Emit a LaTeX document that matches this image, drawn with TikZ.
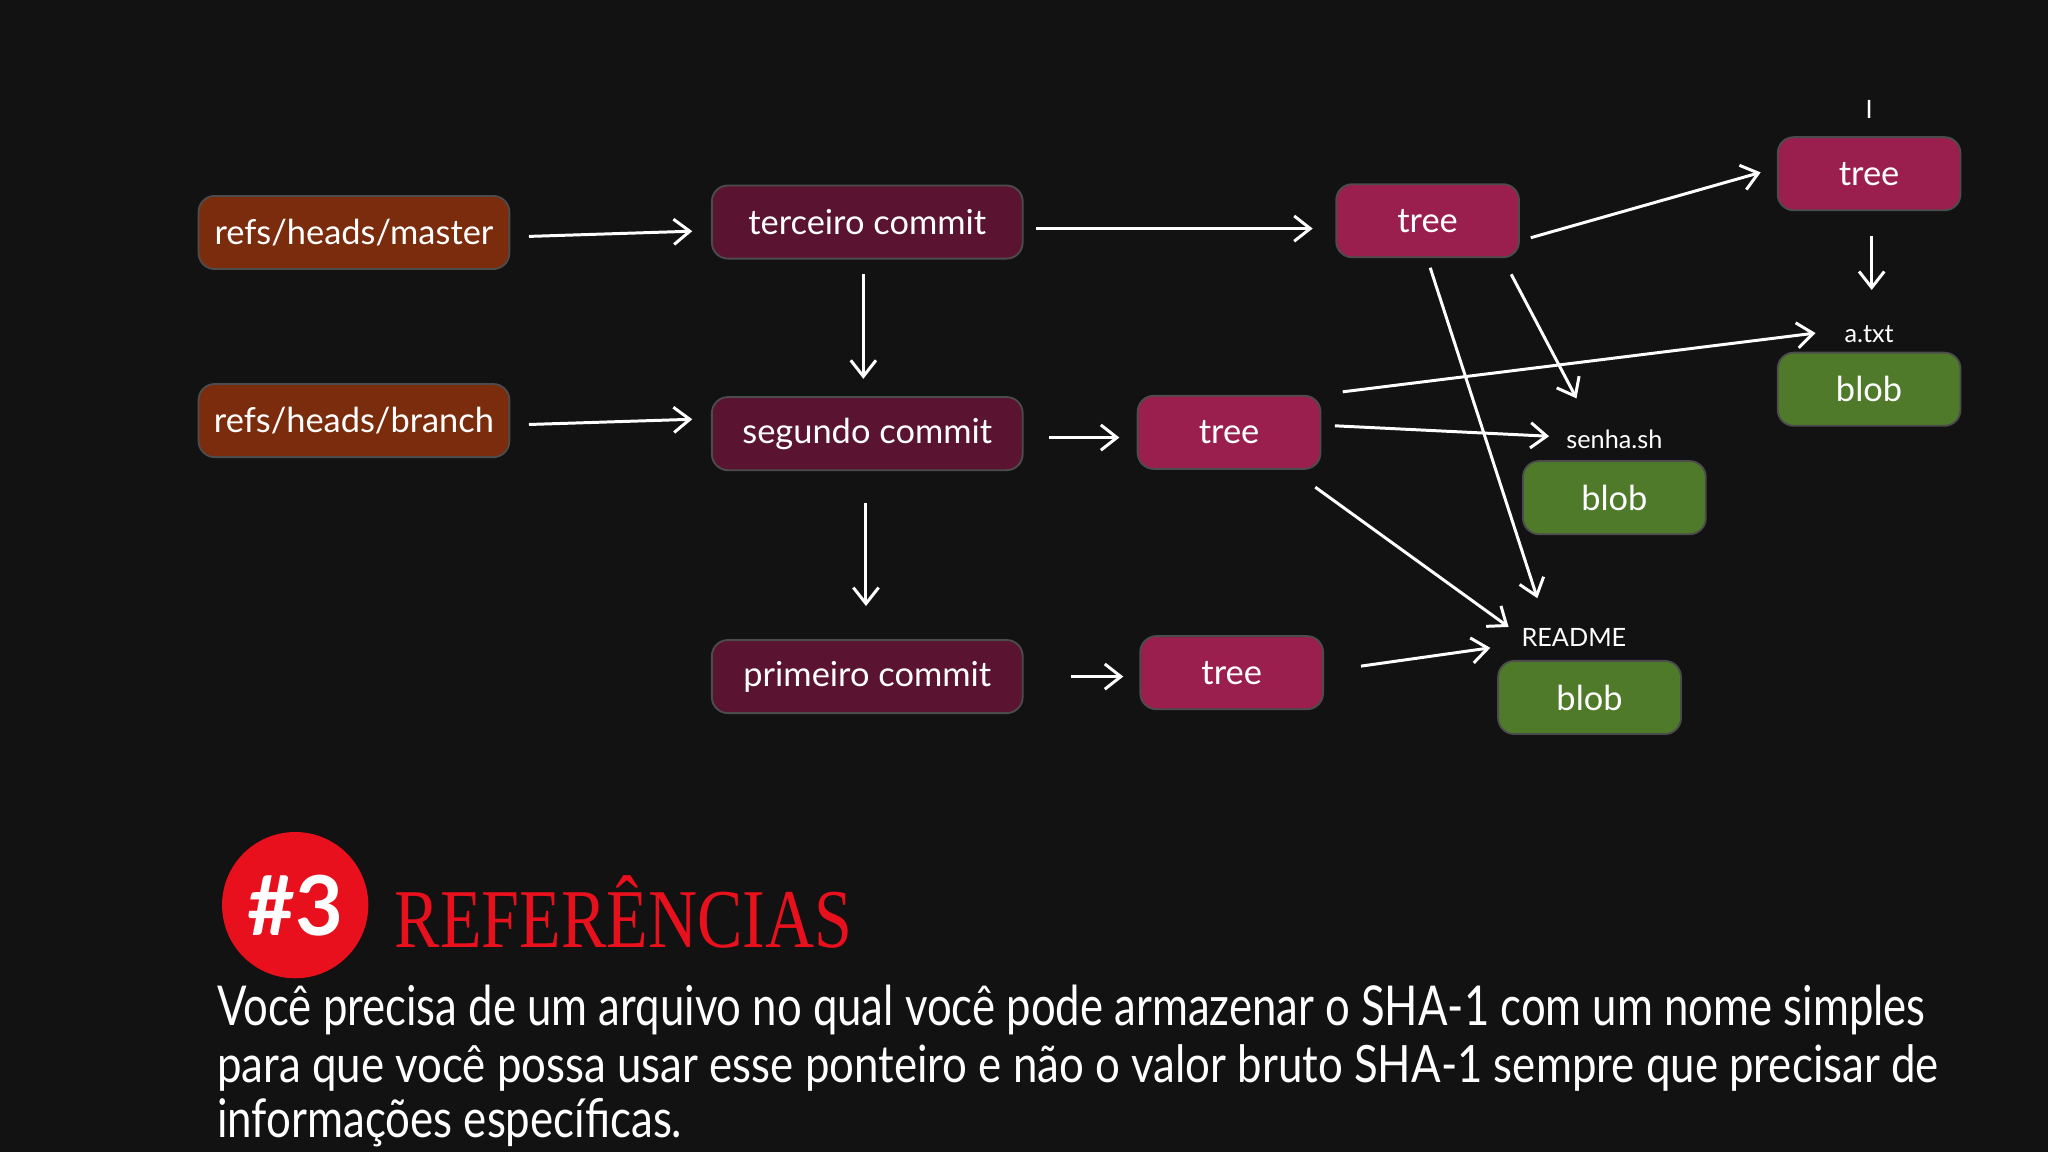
\documentclass[tikz,border=0pt]{standalone}
\usepackage{fontspec}
\setmainfont{Lato}
\newfontfamily\serifr{Liberation Serif}
\usetikzlibrary{arrows.meta}
\definecolor{bg}{HTML}{121212}
\definecolor{refc}{HTML}{7A2C0C}
\definecolor{comc}{HTML}{5A1431}
\definecolor{treec}{HTML}{9A1F4F}
\definecolor{blobc}{HTML}{4F7A2A}
\definecolor{redc}{HTML}{E8101C}
\tikzset{
 box/.style={rounded corners=7pt,draw=black!70,line width=0.8pt,minimum height=1.12cm,text=white,font=\fontsize{15}{18}\selectfont,inner sep=0pt},
 refbox/.style={box,fill=refc,minimum width=4.76cm},
 combox/.style={box,fill=comc,minimum width=4.76cm},
 treebox/.style={box,fill=treec,minimum width=2.8cm},
 blobbox/.style={box,fill=blobc,minimum width=2.8cm},
 lbl/.style={text=white,font=\fontsize{11}{13}\selectfont,inner sep=1pt},
 arr/.style={draw=white,line width=1.3pt,-{Straight Barb[length=7pt,width=11pt]}},
}
\begin{document}
\begin{tikzpicture}[x=0.02cm,y=-0.02cm]
\fill[bg] (0,0) rectangle (1568,882);
\node[refbox] (master) at (271,178) {refs/heads/master};
\node[refbox] (branch) at (271,322) {refs/heads/branch};
\node[combox] (c3) at (664,170) {terceiro commit};
\node[combox] (c2) at (664,332) {segundo commit};
\node[combox] (c1) at (664,518) {primeiro commit};
\node[treebox] (t1) at (1093,169) {tree};
\node[treebox] (tt) at (1431,133) {tree};
\node[treebox] (t2) at (941,331) {tree};
\node[treebox] (t3) at (943,515) {tree};
\node[blobbox] (ba) at (1431,298) {blob};
\node[blobbox] (bs) at (1236,381) {blob};
\node[blobbox] (br) at (1217,534) {blob};
\node[lbl] (la) at (1431,256) {a.txt};
\node[lbl] (ls) at (1236,336) {senha.sh};
\node[lbl] (lr) at (1205,488) {README};
\node[lbl] (li) at (1431,84) {I};
\coordinate (a1) at (405,181); \coordinate (a2) at (530,177);
\coordinate (b1) at (405,325); \coordinate (b2) at (530,321);
\coordinate (c1a) at (793,175); \coordinate (c1b) at (1005,175);
\coordinate (d1) at (1172,182); \coordinate (d2) at (1348,132);
\coordinate (e1) at (1433,181); \coordinate (e2) at (1433,222);
\coordinate (f1) at (661,210); \coordinate (f2) at (661,290);
\coordinate (g1) at (663,385); \coordinate (g2) at (663,464);
\coordinate (h1) at (803,335); \coordinate (h2) at (857,335);
\coordinate (k1) at (820,518); \coordinate (k2) at (860,518);
\coordinate (p1) at (1028,300); \coordinate (p2) at (1390,255);
\coordinate (q1) at (1022,326); \coordinate (q2) at (1186,334);
\coordinate (r1) at (1007,373); \coordinate (r2) at (1155,480);
\coordinate (s1) at (1095,205); \coordinate (s2) at (1177,458);
\coordinate (u1) at (1157,210); \coordinate (u2) at (1207,305);
\coordinate (v1) at (1042,510); \coordinate (v2) at (1141,496);
\foreach \s/\e in {a1/a2,b1/b2,c1a/c1b,d1/d2,e1/e2,f1/f2,g1/g2,h1/h2,k1/k2,p1/p2,q1/q2,r1/r2,s1/s2,u1/u2,v1/v2}
  \draw[arr] (\s) -- (\e);
\node[circle,fill=redc,minimum size=2.24cm,inner sep=0pt,text=white,font=\bfseries\fontsize{36}{40}\selectfont] (num) at (226,693) {\#3};
\node[anchor=west,text=redc,inner sep=0pt] (title) at (302,698) {\resizebox{7cm}{1.1cm}{\serifr REFERÊNCIAS}};
\node[anchor=base west,text=white,inner sep=0pt] (l1) at (166,785) {\resizebox{26.16cm}{0.62cm}{Você precisa de um arquivo no qual você pode armazenar o SHA-1 com um nome simples}};
\node[anchor=base west,text=white,inner sep=0pt] (l2) at (166,829) {\resizebox{26.36cm}{0.58cm}{para que você possa usar esse ponteiro e não o valor bruto SHA-1 sempre que precisar de}};
\node[anchor=base west,text=white,inner sep=0pt] (l3) at (166,871) {\resizebox{7.12cm}{0.6cm}{informações específicas.}};
\end{tikzpicture}
\end{document}
